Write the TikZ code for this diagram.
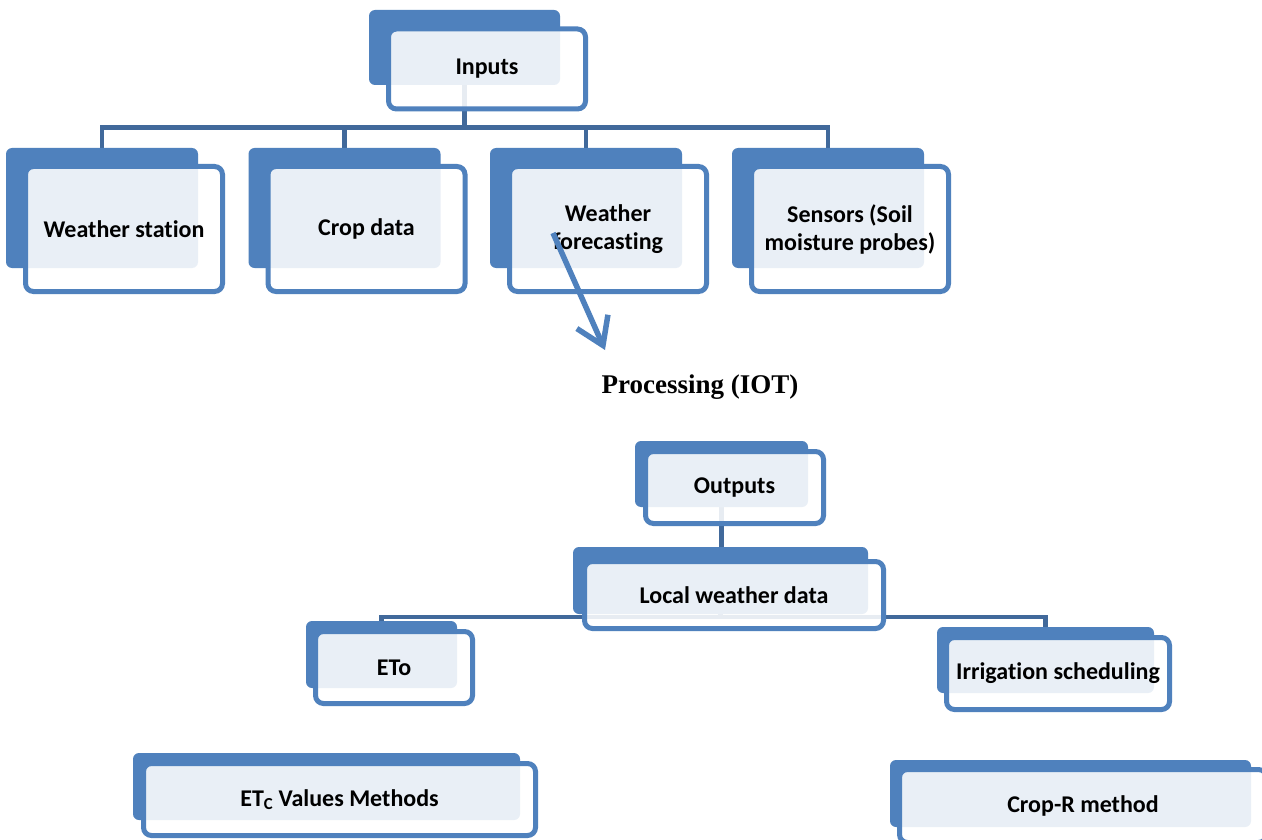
\documentclass[tikz,border=0pt]{standalone}
\usepackage{fontspec}
\setmainfont{Carlito}[Ligatures=NoCommon]
\newfontfamily\procfont{Liberation Serif}
\usetikzlibrary{arrows.meta}
\definecolor{boxblue}{HTML}{4F81BD}
\definecolor{linkblue}{HTML}{41699B}
\pgfdeclarelayer{paper}
\pgfdeclarelayer{bg}
\pgfsetlayers{paper,bg,main}
\begin{document}
\begin{tikzpicture}[x=1pt,y=-1pt,
  backbox/.style={fill=boxblue, rounded corners=6pt, inner sep=0pt, outer sep=0pt},
  frontbox/.style={draw=boxblue, line width=5pt, fill=white, fill opacity=0.88, text opacity=1,
    rounded corners=8pt, inner sep=0pt, outer sep=0pt, align=center,
    font=\fontsize{24}{28}\selectfont\bfseries, text=black},
  link/.style={draw=linkblue, line width=4.5pt},
  bigarrow/.style={draw=boxblue, line width=5.5pt, -{Straight Barb[length=26pt,width=34pt]}}]
\begin{pgfonlayer}{paper}
\fill[white] (0,0) rectangle (1262,840);
\end{pgfonlayer}
\useasboundingbox (0,0) rectangle (1262,840);

% ---- top level
\node[backbox, minimum width=191pt, minimum height=75pt] (inb) at (464.5,47.5) {};
\node[frontbox, minimum width=197pt, minimum height=80pt] (inf) at (487,69) {Inputs};

\node[backbox, minimum width=192pt, minimum height=120pt] (wsb) at (102,208) {};
\node[frontbox, minimum width=197pt, minimum height=125pt] (wsf) at (124,229) {Weather station};

\node[backbox, minimum width=192pt, minimum height=120pt] (cdb) at (344.5,208) {};
\node[frontbox, minimum width=197pt, minimum height=125pt] (cdf) at (366.5,229) {Crop data};

\node[backbox, minimum width=192pt, minimum height=120pt] (wfb) at (586,208) {};
\node[frontbox, minimum width=197pt, minimum height=125pt] (wff) at (608,229) {Weather\\forecasting};

\node[backbox, minimum width=192pt, minimum height=120pt] (snb) at (828,208) {};
\node[frontbox, minimum width=197pt, minimum height=125pt] (snf) at (850,229) {Sensors (Soil\\moisture probes)};

% ---- processing
\node[font=\procfont\bfseries\fontsize{27}{30}\selectfont] (proc) at (700,387) {Processing (IOT)};
\coordinate (arrs) at (553,233);
\coordinate (arre) at (605,350);
\draw[bigarrow] (arrs) -- (arre);

% ---- outputs
\node[backbox, minimum width=173pt, minimum height=66pt] (outb) at (721.5,474) {};
\node[frontbox, minimum width=178pt, minimum height=72pt] (outf) at (734.5,487.5) {Outputs};

\node[backbox, minimum width=295pt, minimum height=67pt] (locb) at (720.5,580.5) {};
\node[frontbox, minimum width=299pt, minimum height=67pt] (locf) at (734,595) {Local weather data};

\node[backbox, minimum width=151pt, minimum height=67pt] (etob) at (381.5,654.5) {};
\node[frontbox, minimum width=157pt, minimum height=72pt] (etof) at (394,667.5) {ETo};

\node[backbox, minimum width=217pt, minimum height=66pt] (irrb) at (1045.5,660) {};
\node[frontbox, minimum width=223pt, minimum height=72pt] (irrf) at (1058,673.5) {Irrigation scheduling};

\node[backbox, minimum width=387pt, minimum height=67pt] (etcb) at (326.5,786.5) {};
\node[frontbox, minimum width=392pt, minimum height=72pt] (etcf) at (339.5,799.5) {ET\textsubscript{C} Values Methods};

\node[backbox, minimum width=361pt, minimum height=67pt] (crb) at (1070.5,793.5) {};
\node[frontbox, minimum width=367pt, minimum height=73pt] (crf) at (1083,806) {Crop-R method};

% ---- connectors behind the boxes
\begin{pgfonlayer}{bg}
  \coordinate (bus1) at (0,127.5);
  \coordinate (bus2) at (0,617);
  \draw[link] (inb.center) -- (inb.center |- bus1);
  \draw[link] (wsb.north) -- (wsb.north |- bus1) -- (snb.north |- bus1) -- (snb.north);
  \draw[link] (cdb.north) -- (cdb.north |- bus1);
  \draw[link] (wfb.north) -- (wfb.north |- bus1);
  \draw[link] (outb.center) -- (outb.center |- locb.north);
  \draw[link] (locb.center) -- (locb.center |- bus2);
  \draw[link] (etob.north) -- (etob.north |- bus2) -- (irrb.north |- bus2) -- (irrb.north);
\end{pgfonlayer}
\end{tikzpicture}
\end{document}
